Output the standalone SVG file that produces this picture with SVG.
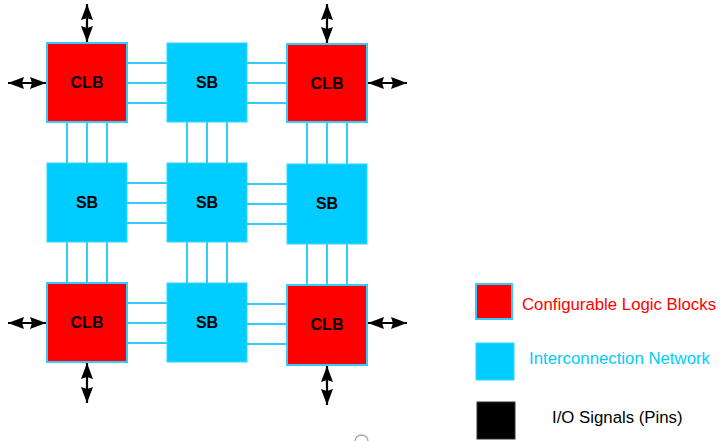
<svg xmlns="http://www.w3.org/2000/svg" width="726" height="441" viewBox="0 0 726 441">
<defs>
<style>
.clb{fill:#ff0000;stroke:#33ccff;stroke-width:2}
.sb{fill:#00ccff;stroke:#33d6ff;stroke-width:1}
.lbl{font-family:"Liberation Sans",Arial,sans-serif;font-weight:bold;font-size:16px;fill:#000;text-anchor:middle;dominant-baseline:central}
.wire{stroke:#33ccff;stroke-width:2;fill:none}
.io{stroke:#000;stroke-width:2.2;fill:none;marker-start:url(#ah);marker-end:url(#ah)}
.leg{font-family:"Liberation Sans",Arial,sans-serif;font-size:16.8px;dominant-baseline:central}
</style>
<marker id="ah" viewBox="0 0 16 12" refX="16" refY="6" markerWidth="16" markerHeight="12" markerUnits="userSpaceOnUse" orient="auto-start-reverse">
<path d="M0,0 L16,6 L0,12 L2,6 Z" fill="#000"/>
</marker>
</defs>
<g id="connectors">
<path class="wire" d="M127,63H167M127,83H167M127,103H167M247,63H287M247,83H287M247,103H287"/>
<path class="wire" d="M127,183H167M127,203H167M127,223H167M247,184H287M247,204H287M247,224H287"/>
<path class="wire" d="M127,303H167M127,323H167M127,343H167M247,304H287M247,324H287M247,344H287"/>
<path class="wire" d="M67,122V163M87,122V163M107,122V163M67,242V283M87,242V283M107,242V283"/>
<path class="wire" d="M187,122V163M207,122V163M227,122V163M187,242V283M207,242V283M227,242V283"/>
<path class="wire" d="M307,122V164M327,122V164M347,122V164M307,244V285M327,244V285M347,244V285"/>
<line class="io" x1="87" y1="42" x2="87" y2="4"/>
<line class="io" x1="46" y1="83" x2="8" y2="83"/>
<line class="io" x1="327" y1="43" x2="327" y2="4"/>
<line class="io" x1="368" y1="83" x2="407" y2="83"/>
<line class="io" x1="46" y1="323" x2="8" y2="323"/>
<line class="io" x1="87" y1="363" x2="87" y2="403"/>
<line class="io" x1="368" y1="323" x2="407" y2="323"/>
<line class="io" x1="327" y1="366" x2="327" y2="405"/>
</g>
<g id="clb-top-left"><rect class="clb" x="47" y="43" width="80" height="79"/><text class="lbl" x="87" y="82">CLB</text></g>
<g id="sb-top-mid"><rect class="sb" x="167" y="43" width="80" height="79"/><text class="lbl" x="207" y="82">SB</text></g>
<g id="clb-top-right"><rect class="clb" x="287" y="44" width="80" height="78"/><text class="lbl" x="327" y="83">CLB</text></g>
<g id="sb-mid-left"><rect class="sb" x="47" y="163" width="80" height="79"/><text class="lbl" x="87" y="202">SB</text></g>
<g id="sb-mid-mid"><rect class="sb" x="167" y="163" width="80" height="79"/><text class="lbl" x="207" y="202">SB</text></g>
<g id="sb-mid-right"><rect class="sb" x="287" y="164" width="80" height="80"/><text class="lbl" x="327" y="203">SB</text></g>
<g id="clb-bot-left"><rect class="clb" x="47" y="283" width="80" height="79"/><text class="lbl" x="87" y="322">CLB</text></g>
<g id="sb-bot-mid"><rect class="sb" x="167" y="283" width="80" height="79"/><text class="lbl" x="207" y="322">SB</text></g>
<g id="clb-bot-right"><rect class="clb" x="287" y="285" width="80" height="80"/><text class="lbl" x="327" y="324">CLB</text></g>
<g id="legend">
<rect class="clb" x="476" y="284" width="36" height="35"/>
<text class="leg" x="522" y="304" fill="#ff0000">Configurable Logic Blocks</text>
<rect x="476" y="343" width="38" height="37" fill="#00ccff" stroke="#33d6ff" stroke-width="1"/>
<text class="leg" x="529" y="358" fill="#00ccff">Interconnection Network</text>
<rect x="477" y="402" width="38" height="37" fill="#000" stroke="#333" stroke-width="1"/>
<text class="leg" x="552" y="417" fill="#000">I/O Signals (Pins)</text>
</g>
<path d="M355,441 A6.5,6 0 0 1 368,441" fill="none" stroke="#aaa" stroke-width="1.5"/>
</svg>
